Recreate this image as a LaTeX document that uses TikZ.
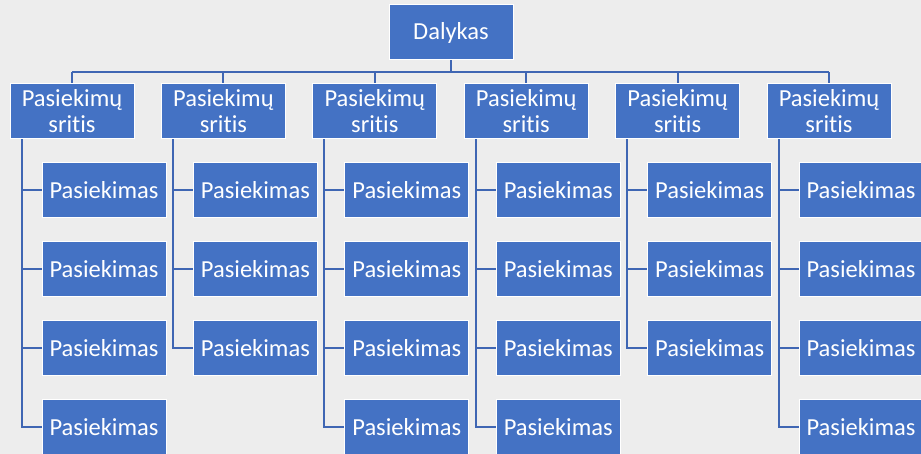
\documentclass[tikz,border=0pt]{standalone}
\usepackage{fontspec}
\setmainfont{Carlito}[RawFeature={-liga;-clig}]
\usetikzlibrary{calc}
\definecolor{boxblue}{HTML}{4472C4}
\definecolor{linkblue}{HTML}{3F66B3}
\definecolor{bggray}{HTML}{EDEDED}
\pgfdeclarelayer{back}
\pgfdeclarelayer{links}
\pgfsetlayers{back,links,main}
\begin{document}
\begin{tikzpicture}[x=1pt,y=-1pt,
  box/.style={rectangle, fill=boxblue, draw=white, line width=1pt,
    minimum width=124pt, minimum height=55pt, inner sep=0pt,
    text=white, align=center, font=\fontsize{24.5}{26}\selectfont},
  link/.style={draw=linkblue, line width=2pt}]
\useasboundingbox (0,0) rectangle (921,454);
\begin{pgfonlayer}{back}
\fill[bggray] (0,0) rectangle (921,454);
\end{pgfonlayer}
\node[box] (top) at (451,32.5) {Dalykas};
\coordinate (bus) at (451,72);
\foreach \i/\lx/\n in {1/10/4, 2/161.4/3, 3/312.8/4, 4/464.2/4, 5/615.6/3, 6/767/4}{
  \node[box] (a\i) at (\lx+62,111.5) {Pasiekimų\\sritis};
  \foreach \j in {1,...,\n}{
    \pgfmathsetmacro\yy{190+79*(\j-1)}
    \node[box] (c\i-\j) at (\lx+94,\yy) {Pasiekimas};
  }
  \begin{pgfonlayer}{links}
  \draw[link] (a\i.north) -- (a\i.north |- bus);
  \foreach \j in {1,...,\n}{
    \draw[link] ($(a\i.south west)+(12,0)$) |- (c\i-\j.west);
  }
  \end{pgfonlayer}
}
\begin{pgfonlayer}{links}
\draw[link] (top.south) -- (bus);
\draw[link] (a1.north |- bus) -- (a6.north |- bus);
\end{pgfonlayer}
\end{tikzpicture}
\end{document}
